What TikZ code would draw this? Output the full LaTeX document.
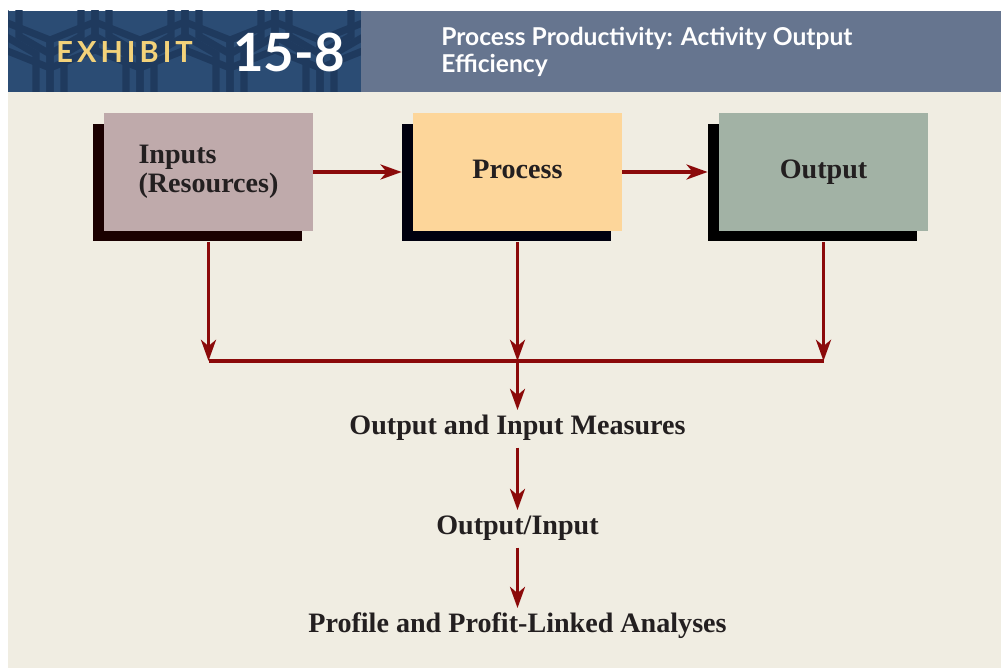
\documentclass[tikz,border=0pt]{standalone}
\usepackage{fontspec}
\setmainfont{Liberation Serif}
\newfontfamily\headfont{Lato}
\newfontfamily\exhibitfont[LetterSpace=14]{Lato}
\usetikzlibrary{arrows.meta,positioning,calc}

\definecolor{pagebg}{HTML}{F0EDE2}
\definecolor{bandblue}{HTML}{2B4C74}
\definecolor{banddark}{HTML}{1F3A5E}
\definecolor{bandslate}{HTML}{66758F}
\definecolor{exhibitgold}{HTML}{F3D27A}
\definecolor{arrowred}{HTML}{8B0A0A}
\definecolor{textdark}{HTML}{231F20}
\definecolor{inputfill}{HTML}{BFAAAB}
\definecolor{processfill}{HTML}{FDD69A}
\definecolor{outputfill}{HTML}{A2B2A5}
\definecolor{inshadow}{HTML}{1A0000}
\definecolor{procshadow}{HTML}{00000F}
\definecolor{outshadow}{HTML}{000000}

\newcommand{\boxfont}{\bfseries\fontsize{16}{16.5}\selectfont}

\begin{document}
\begin{tikzpicture}[x=0.02cm,y=-0.02cm,
    box/.style={minimum width=4.18cm,minimum height=2.36cm,inner sep=0pt,font=\boxfont,text=textdark},
    oneline/.style={text height=11pt,text depth=4pt},
    boxshadow/.style={minimum width=4.18cm,minimum height=2.36cm,inner sep=0pt},
    flow/.style={draw=arrowred,line width=2.2pt,-{Stealth[length=12pt,width=8.5pt,inset=3.5pt]}},
    busline/.style={draw=arrowred,line width=2.2pt},
    stage/.style={font=\boxfont,text=textdark,inner ysep=3pt,text height=11pt,text depth=4pt},
    patline/.style={draw=banddark,line width=4pt}]
    \useasboundingbox[fill=white] (0,0) rectangle (1001,668);

    % Header band
    \fill[bandblue] (8,11) rectangle (361,92);
    \begin{scope}
        \clip (8,11) rectangle (361,92);
        \foreach \x in {-40,50,...,380} {
            \foreach \d in {0,14} {
                \draw[patline] (\x+\d,96) -- (\x+\d,40+\d) -- (\x+45,22+\d) -- (\x+90-\d,40+\d) -- (\x+90-\d,96);
                \draw[patline] (\x+45+\d,6) -- (\x+45+\d,50-\d) -- (\x+90,68-\d) -- (\x+135-\d,50-\d) -- (\x+135-\d,6);
            }
        }
    \end{scope}
    \fill[bandslate] (361,11) rectangle (1001,92);
    \fill[pagebg] (8,92) rectangle (1001,668);

    \node[anchor=base west,inner sep=0pt,text=exhibitgold,font=\exhibitfont\bfseries\fontsize{16.5}{18}\selectfont] (exhibit) at (56,63) {EXHIBIT};
    \node[anchor=base west,inner sep=0pt,text=white,font=\headfont\bfseries\fontsize{30}{32}\selectfont] (number) at (233,72) {15-8};
    \node[anchor=base west,inner sep=0pt,text=white,align=left,font=\headfont\bfseries\fontsize{14}{15.9}\selectfont] (title) at (441,73) {Process Productivity: Activity Output\\Efficiency};

    % Boxes with offset shadows
    \node[boxshadow,fill=inshadow] (inS) at (197.5,182.5) {};
    \node[box,fill=inputfill,align=left] (in) at ($(inS)+(11,-10.5)$) {Inputs\\(Resources)};
    \node[boxshadow,fill=procshadow] (procS) at (506.5,182.5) {};
    \node[box,oneline,fill=processfill] (proc) at ($(procS)+(11,-10.5)$) {Process};
    \node[boxshadow,fill=outshadow] (outS) at (812.5,182.5) {};
    \node[box,oneline,fill=outputfill] (out) at ($(outS)+(11,-10.5)$) {Output};

    \draw[flow] (in.east) -- (in.east -| procS.west);
    \draw[flow] (proc.east) -- (proc.east -| outS.west);

    % Collecting line
    \coordinate (bus) at ($(proc.center)+(0,189)$);
    \draw[flow] (in |- inS.south) -- (in |- bus);
    \draw[flow] (proc |- procS.south) -- (bus);
    \draw[flow] (out |- outS.south) -- (out |- bus);
    \draw[busline] (in |- bus) -- (out |- bus);

    % Measures chain
    \node[stage,anchor=base] (measures) at (517.5,435) {Output and Input Measures};
    \node[stage,anchor=base] (ratio) at (517.5,535) {Output/Input};
    \node[stage,anchor=base] (profile) at (517.5,633) {Profile and Profit-Linked Analyses};

    \draw[flow] (bus) -- (measures.north);
    \draw[flow] (measures) -- (ratio);
    \draw[flow] (ratio) -- (profile);
\end{tikzpicture}
\end{document}
